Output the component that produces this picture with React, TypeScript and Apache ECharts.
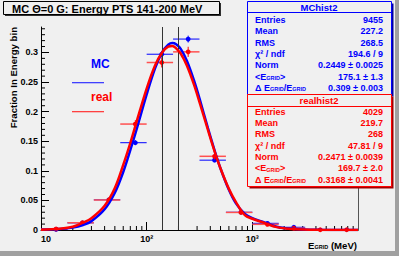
import React, { useEffect, useRef } from 'react';
import * as echarts from 'echarts';

// ---- data ----
const binEdges = [10, 17.78, 31.62, 56.23, 100, 177.8, 316.2, 562.3, 1000, 1778, 3162, 5623, 10000];
const mcValues: (number | null)[] = [0.001, 0.012, 0.051, 0.1475, 0.297, 0.3226, 0.118, 0.030, 0.0113, 0.0046, null, null];
const mcErrors = [0.0003, 0.0011, 0.0023, 0.004, 0.0056, 0.0058, 0.0035, 0.0018, 0.0011, 0.0007, 0, 0];
const realValues: (number | null)[] = [0.0017, 0.0123, 0.0507, 0.179, 0.283, 0.301, 0.1245, 0.0297, 0.0096, 0.0029, 0.0005, 0.0005];
const realErrors = [0.0006, 0.0017, 0.0035, 0.0067, 0.0084, 0.0086, 0.0056, 0.0027, 0.0015, 0.0008, 0.0004, 0.0004];

const fitEnergies = [10, 15, 20, 25, 30, 40, 50, 60, 70, 80, 100, 120, 140, 160, 175, 190, 210, 240, 280, 320, 380, 440, 500, 600, 700, 850, 1000, 1300, 1700, 2200, 3000, 4500, 7000, 10000];
const mcFit = [0.0004, 0.0015, 0.004, 0.0085, 0.015, 0.035, 0.063, 0.098, 0.135, 0.169, 0.229, 0.273, 0.300, 0.313, 0.316, 0.314, 0.306, 0.286, 0.253, 0.219, 0.172, 0.134, 0.104, 0.068, 0.045, 0.027, 0.020, 0.013, 0.0055, 0.0024, 0.0008, 0.0003, 0.0001, 0.00005];
const realFit = [0.0006, 0.0022, 0.0055, 0.0125, 0.020, 0.041, 0.071, 0.110, 0.147, 0.182, 0.239, 0.278, 0.300, 0.310, 0.311, 0.307, 0.298, 0.278, 0.246, 0.213, 0.169, 0.1325, 0.104, 0.0695, 0.047, 0.025, 0.019, 0.012, 0.0048, 0.002, 0.0007, 0.0002, 0.0001, 0.00005];

const cutLines = [141, 200];
const xMinorTicks = [20, 30, 40, 50, 60, 70, 80, 90, 200, 300, 400, 500, 600, 700, 800, 900, 2000, 3000, 4000, 5000, 6000, 7000, 8000, 9000];
const yMinorTicks = [0.01, 0.02, 0.03, 0.04, 0.06, 0.07, 0.08, 0.09, 0.11, 0.12, 0.13, 0.14, 0.16, 0.17, 0.18, 0.19, 0.21, 0.22, 0.23, 0.24, 0.26, 0.27, 0.28, 0.29, 0.31, 0.32, 0.33, 0.34];
const xTickLabels: Record<number, string> = { 10: '10', 100: '10²', 1000: '10³' };

const titleText = 'MC Θ=0 G: Energy PTS 141-200 MeV';
const yTitle = 'Fraction In Energy bin';
const statLabels = ['Entries', 'Mean', 'RMS', 'χ² / ndf', 'Norm', '<E{sub|GRID}>', 'Δ E{sub|GRID}/E{sub|GRID}'];
const mcStatValues = ['9455', '227.2', '268.5', '194.6 / 9', '0.2449 ± 0.0025', '175.1 ± 1.3', '0.309 ± 0.003'];
const realStatValues = ['4029', '219.7', '268', '47.81 / 9', '0.2471 ± 0.0039', '169.7 ± 2.0', '0.3168 ± 0.0041'];

const FONT = '"Liberation Sans", Arial, Helvetica, sans-serif';
const BLUE = '#0000ff';
const RED = '#ff0000';
const BG = '#f0f0f0';

function errData(values: (number | null)[], errors: number[]) {
  const out: number[][] = [];
  values.forEach((v, i) => {
    if (v === null) return;
    const lo = binEdges[i];
    const hi = binEdges[i + 1];
    out.push([(lo + hi) / 2, v, lo, hi, errors[i]]);
  });
  return out;
}

function errSeries(name: string, values: (number | null)[], errors: number[], color: string, barColor: string, barWidth: number) {
  return {
    name,
    type: 'custom',
    coordinateSystem: 'cartesian2d',
    dimensions: ['x', 'y', 'lo', 'hi', 'err'],
    encode: { x: 0, y: 1 },
    data: errData(values, errors),
    renderItem: (_p: any, api: any) => {
      const x = api.value(0), y = api.value(1), lo = api.value(2), hi = api.value(3), e = api.value(4);
      const c = api.coord([x, y]);
      const l = api.coord([lo, y]);
      const h = api.coord([hi, y]);
      const t = api.coord([x, y + e]);
      const b = api.coord([x, Math.max(y - e, 0)]);
      return {
        type: 'group',
        children: [
          { type: 'line', shape: { x1: l[0], y1: c[1], x2: h[0], y2: c[1] }, style: { stroke: barColor, lineWidth: barWidth } },
          { type: 'line', shape: { x1: c[0], y1: t[1], x2: c[0], y2: b[1] }, style: { stroke: color, lineWidth: 1 } },
          { type: 'circle', shape: { cx: c[0], cy: c[1], r: 2.4 }, style: { fill: color } },
        ],
      };
    },
    z: 3,
  };
}

function statsTexts(values: string[], color: string, y0: number) {
  const els: any[] = [];
  statLabels.forEach((lab, i) => {
    const y = y0 + i * 11.3;
    els.push({
      type: 'text', x: 255, y, z: 20,
      style: {
        text: lab, fill: color, fontSize: 9, fontWeight: 'bold', fontFamily: FONT,
        align: 'left', verticalAlign: 'middle',
        rich: { sub: { fontSize: 5.5, fontWeight: 'bold', fontFamily: FONT, fill: color, verticalAlign: 'bottom', padding: [3, 0, 0, 0] } },
      },
    });
    els.push({
      type: 'text', x: 383, y, z: 20,
      style: { text: values[i], fill: color, fontSize: 9, fontWeight: 'bold', fontFamily: FONT, align: 'right', verticalAlign: 'middle' },
    });
  });
  return els;
}

export default function App() {
  const ref = useRef<HTMLDivElement>(null);
  useEffect(() => {
    if (!ref.current) return;
    const chart = echarts.init(ref.current, null, { renderer: 'svg' });
    const option: any = {
      animation: false,
      backgroundColor: BG,
      grid: { left: 41, right: 41, top: 27, bottom: 26, containLabel: false },
      xAxis: {
        type: 'log', logBase: 10, min: 10, max: 10000,
        axisLine: { show: true, onZero: false, lineStyle: { color: '#000', width: 1 } },
        axisTick: { show: true, inside: true, length: 8, lineStyle: { color: '#000' } },
        minorTick: { show: false },
        splitLine: { show: false },
        axisLabel: {
          formatter: (v: number) => xTickLabels[Math.round(v)] ?? '',
          margin: 4, fontSize: 9, fontWeight: 'bold', fontFamily: FONT, color: '#000',
          alignMinLabel: 'left', showMaxLabel: false,
        },
      },
      yAxis: [
        {
          type: 'value', min: 0, max: 0.343, interval: 0.05, position: 'left',
          axisLine: { show: true, onZero: false, lineStyle: { color: '#000', width: 1 } },
          axisTick: { show: true, inside: true, length: 8, lineStyle: { color: '#000' } },
          splitLine: { show: false },
          axisLabel: {
            formatter: (v: number) => {
              const k = v / 0.05;
              return Math.abs(k - Math.round(k)) < 1e-6 ? String(+v.toFixed(2)) : '';
            },
            margin: 3, fontSize: 9, fontWeight: 'bold', fontFamily: FONT, color: '#000', showMaxLabel: false,
          },
        },
        {
          type: 'value', min: 0, max: 0.343, position: 'right',
          axisLine: { show: true, onZero: false, lineStyle: { color: '#555', width: 1 } },
          axisTick: { show: false }, axisLabel: { show: false }, splitLine: { show: false },
        },
      ],
      series: [
        {
          type: 'custom', coordinateSystem: 'cartesian2d', encode: { x: 0, y: 1 },
          data: xMinorTicks.map((v) => [v, 0]),
          renderItem: (_p: any, api: any) => {
            const p = api.coord([api.value(0), 0]);
            return { type: 'line', shape: { x1: p[0], y1: p[1], x2: p[0], y2: p[1] - 4 }, style: { stroke: '#000', lineWidth: 1 } };
          },
          z: 1,
        },
        {
          type: 'custom', coordinateSystem: 'cartesian2d', encode: { x: 0, y: 1 },
          data: yMinorTicks.map((v) => [10, v]),
          renderItem: (_p: any, api: any) => {
            const p = api.coord([10, api.value(1)]);
            return { type: 'line', shape: { x1: p[0], y1: p[1], x2: p[0] + 4, y2: p[1] }, style: { stroke: '#000', lineWidth: 1 } };
          },
          z: 1,
        },
        {
          type: 'line', data: [], z: 1,
          markLine: {
            silent: true, symbol: 'none', label: { show: false },
            lineStyle: { color: '#333', width: 1, type: 'solid' },
            data: cutLines.map((v) => ({ xAxis: v })),
          },
        },
        errSeries('MC', mcValues, mcErrors, BLUE, BLUE, 1),
        errSeries('real', realValues, realErrors, RED, '#ff5050', 1.5),
        {
          name: 'MC fit', type: 'line', smooth: 0.35, showSymbol: false, symbol: 'none',
          data: fitEnergies.map((e, i) => [e, mcFit[i]]),
          lineStyle: { color: BLUE, width: 2.5 }, z: 4,
        },
        {
          name: 'real fit', type: 'line', smooth: 0.35, showSymbol: false, symbol: 'none',
          data: fitEnergies.map((e, i) => [e, realFit[i]]),
          lineStyle: { color: RED, width: 2.5 }, z: 5,
        },
      ],
      graphic: [
        // canvas border
        { type: 'rect', shape: { x: 0, y: 251, width: 399, height: 5 }, style: { fill: '#a0a0a0' }, z: 0 },
        { type: 'rect', shape: { x: 395, y: 0, width: 4, height: 256 }, style: { fill: '#a0a0a0' }, z: 0 },
        // title box
        { type: 'rect', shape: { x: 5, y: 3, width: 216, height: 13 }, style: { fill: '#303030' }, z: 10 },
        { type: 'rect', shape: { x: 3.5, y: 1.5, width: 216, height: 13 }, style: { fill: BG, stroke: '#000', lineWidth: 1 }, z: 11 },
        {
          type: 'text', x: 12, y: 8.5, z: 12,
          style: { text: titleText, fill: '#000', fontSize: 11, fontWeight: 'bold', fontFamily: FONT, align: 'left', verticalAlign: 'middle' },
        },
        // y-axis title
        {
          type: 'text', x: 13, y: 27, rotation: Math.PI / 2, z: 12,
          style: { text: yTitle, fill: '#000', fontSize: 9.6, fontWeight: 'bold', fontFamily: FONT, align: 'right', verticalAlign: 'middle' },
        },
        // x-axis title
        {
          type: 'text', x: 357, y: 245, z: 12,
          style: {
            text: 'E{sub|GRID} (MeV)', fill: '#000', fontSize: 9.6, fontWeight: 'bold', fontFamily: FONT, align: 'right', verticalAlign: 'middle',
            rich: { sub: { fontSize: 5.5, fontWeight: 'bold', fontFamily: FONT, fill: '#000', verticalAlign: 'bottom', padding: [3, 0, 0, 0] } },
          },
        },
        // legend
        { type: 'text', x: 91, y: 63.5, z: 12, style: { text: 'MC', fill: BLUE, fontSize: 12, fontWeight: 'bold', fontFamily: FONT, align: 'left', verticalAlign: 'middle' } },
        { type: 'rect', shape: { x: 72, y: 82, width: 32, height: 1.3 }, style: { fill: '#4040ff' }, z: 12 },
        { type: 'text', x: 91, y: 96.5, z: 12, style: { text: 'real', fill: RED, fontSize: 12, fontWeight: 'bold', fontFamily: FONT, align: 'left', verticalAlign: 'middle' } },
        { type: 'rect', shape: { x: 72, y: 111, width: 32, height: 1.3 }, style: { fill: '#ff4040' }, z: 12 },
        // MC stats box
        { type: 'rect', shape: { x: 249.5, y: 3.5, width: 144, height: 93 }, style: { fill: '#0000a0' }, z: 15 },
        { type: 'rect', shape: { x: 247.5, y: 1.5, width: 144, height: 93 }, style: { fill: BG, stroke: BLUE, lineWidth: 1 }, z: 16 },
        { type: 'line', shape: { x1: 247.5, y1: 12.5, x2: 391.5, y2: 12.5 }, style: { stroke: BLUE, lineWidth: 1 }, z: 17 },
        { type: 'text', x: 319, y: 7, z: 20, style: { text: 'MChist2', fill: BLUE, fontSize: 9.5, fontWeight: 'bold', fontFamily: FONT, align: 'center', verticalAlign: 'middle' } },
        ...statsTexts(mcStatValues, BLUE, 20),
        // real stats box
        { type: 'rect', shape: { x: 249.5, y: 96.5, width: 144, height: 92 }, style: { fill: '#a00000' }, z: 15 },
        { type: 'rect', shape: { x: 247.5, y: 94.5, width: 144, height: 92 }, style: { fill: BG, stroke: RED, lineWidth: 1 }, z: 16 },
        { type: 'line', shape: { x1: 247.5, y1: 106.5, x2: 391.5, y2: 106.5 }, style: { stroke: RED, lineWidth: 1 }, z: 17 },
        { type: 'text', x: 319, y: 100, z: 20, style: { text: 'realhist2', fill: RED, fontSize: 9.5, fontWeight: 'bold', fontFamily: FONT, align: 'center', verticalAlign: 'middle' } },
        ...statsTexts(realStatValues, RED, 111.7),
      ],
    };
    chart.setOption(option);
    return () => chart.dispose();
  }, []);
  return <div ref={ref} style={{ position: 'fixed', left: 0, top: 0, width: 399, height: 256 }} />;
}
